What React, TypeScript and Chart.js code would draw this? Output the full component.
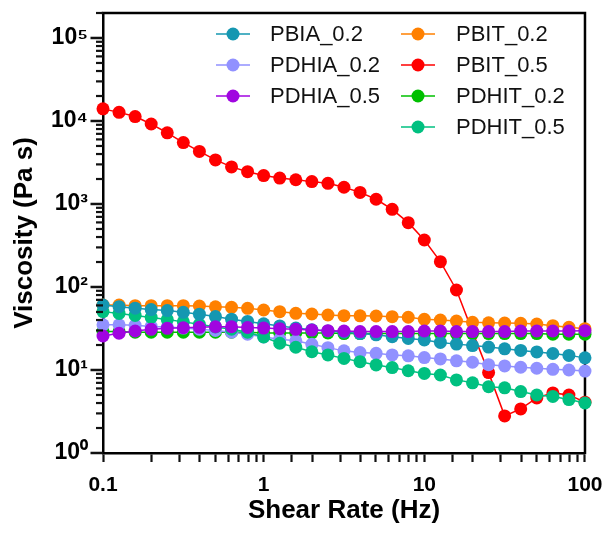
import React, { useEffect, useRef } from 'react';
import { Chart, registerables } from 'chart.js';

Chart.register(...registerables);

const FONT = "'Liberation Sans', Arial, sans-serif";

// Shear rate (Hz), 10 points per decade
const shearRate = [
  0.1, 0.1259, 0.1585, 0.1995, 0.2512, 0.3162, 0.3981, 0.5012, 0.631, 0.7943,
  1, 1.259, 1.585, 1.995, 2.512, 3.162, 3.981, 5.012, 6.31, 7.943,
  10, 12.59, 15.85, 19.95, 25.12, 31.62, 39.81, 50.12, 63.1, 79.43, 100,
];

const PBIA_02 = [
  60.7, 58, 55.5, 53.5, 52, 49.5, 47, 44, 41, 38.5,
  36, 34, 32, 30.5, 29.5, 28.5, 27.5, 26.5, 25.2, 24,
  23, 21.5, 20.5, 19.7, 18.9, 18, 17.2, 16.5, 15.8, 15, 14,
];
const PDHIA_02 = [
  35, 35, 34.5, 33.5, 33, 32, 31, 30, 28.5, 27,
  25, 23.5, 22.5, 20.4, 18.6, 17, 16.2, 15.9, 15.2, 14.8,
  14.1, 13.6, 12.9, 12.4, 11.6, 11.2, 10.8, 10.5, 10.2, 10, 9.7,
];
const PDHIA_05 = [
  25.7, 27.7, 29.5, 30.9, 31.8, 32.3, 32.7, 33.2, 33.2, 32.5,
  32, 31.5, 30.9, 30.3, 29.8, 29.5, 29, 29, 29, 29,
  29.5, 29.5, 29, 29, 29, 29, 29.5, 29.5, 29.5, 29.5, 29.8,
];
const PBIT_02 = [
  60.7, 60.5, 59.5, 59.5, 59.5, 59.5, 59, 57.7, 56.9, 55.4,
  52.8, 50.4, 48.2, 47.3, 46, 45.1, 45, 44.7, 43.9, 43.2,
  40.8, 40, 38.9, 37.5, 37, 36.8, 36.5, 35.8, 34.2, 32.7, 31.5,
];
const PBIT_05 = [
  14000, 12700, 11300, 9200, 7200, 5500, 4300, 3400, 2800, 2450,
  2200, 2050, 1960, 1860, 1775, 1590, 1380, 1140, 863, 596,
  368, 202, 92, 29, 9.3, 2.8, 3.4, 4.6, 5.3, 5.0, 4.1,
];
const PDHIT_02 = [
  29, 29, 28.5, 28.5, 28.5, 28.5, 28.5, 28.5, 28.5, 28.5,
  28, 28, 28, 28, 28, 27.5, 27.5, 27.5, 27.5, 27.5,
  27.5, 27.5, 27.5, 27.5, 27.5, 27.5, 27.5, 27.5, 27, 27, 27,
];
const PDHIT_05 = [
  50.5, 48, 45.5, 43, 40.5, 38, 35.5, 33, 31, 28.5,
  25, 21, 18.8, 16.6, 15.2, 13.8, 12.6, 11.5, 10.7, 9.8,
  9.1, 8.7, 7.6, 7.0, 6.3, 6.1, 5.5, 5.0, 4.8, 4.4, 4.0,
];

const seriesNames = ['PBIA_0.2', 'PDHIA_0.2', 'PDHIA_0.5', 'PBIT_0.2', 'PBIT_0.5', 'PDHIT_0.2', 'PDHIT_0.5'];
const seriesValues = [PBIA_02, PDHIA_02, PDHIA_05, PBIT_02, PBIT_05, PDHIT_02, PDHIT_05];
const seriesColors = ['#1597B1', '#9191FF', '#A005E0', '#FF8000', '#FF0000', '#00C000', '#00C080'];
// drawing order: higher drawn first (below)
const seriesOrder = [2, 4, 1, 6, 7, 5, 3];

const xTickValues = [0.1, 1, 10, 100];
const xTickLabels = ['0.1', '1', '10', '100'];
const yTickValues = [1, 10, 100, 1000, 10000, 100000];
const yTickLabels = ['10⁰', '10¹', '10²', '10³', '10⁴', '10⁵'];
const minorMultipliers = [2, 3, 4, 5, 6, 7, 8, 9];

const X_MIN = 0.1;
const X_MAX = 100;
const Y_MIN = 1;
const Y_MAX = 200000;

function labelFor(values: number[], labels: string[], v: number) {
  for (let i = 0; i < values.length; i++) {
    if (Math.abs(values[i] - v) / values[i] < 1e-6) return labels[i];
  }
  return '';
}

function drawYTicks(chart: any) {
  const ctx = chart.ctx;
  const a = chart.chartArea;
  const ys = chart.scales['y'];
  ctx.save();
  ctx.fillStyle = '#111111';
  const yTick = (v: number, len: number, w: number) => {
    const py = ys.getPixelForValue(v);
    ctx.fillRect(a.left - len, py - w / 2, len, w);
  };
  for (const d of yTickValues) {
    yTick(d, 12.5, 2.5);
    for (const m of minorMultipliers) {
      if (m * d <= Y_MAX * 1.0001) yTick(m * d, 7, 2.2);
    }
  }
  ctx.restore();
}

const decorPlugin = {
  id: 'decor',
  beforeDatasetsDraw(chart: any) {
    const { ctx, chartArea: a } = chart;
    ctx.save();
    ctx.strokeStyle = '#000';
    ctx.lineWidth = 2.5;
    ctx.beginPath();
    ctx.moveTo(a.left - 1.25, a.top);
    ctx.lineTo(a.right, a.top);
    ctx.lineTo(a.right, a.bottom + 1.25);
    ctx.stroke();
    ctx.restore();
  },
  afterDraw(chart: any) {
    const { ctx } = chart;
    const ds = chart.data.datasets;
    // legend: two columns
    const cols = [
      { lineX: 216, textX: 270, items: [0, 1, 2] },
      { lineX: 401, textX: 456, items: [3, 4, 5, 6] },
    ];
    ctx.save();
    ctx.font = `22px ${FONT}`;
    ctx.textBaseline = 'middle';
    ctx.textAlign = 'left';
    for (const c of cols) {
      c.items.forEach((idx, row) => {
        const y = 34 + row * 31;
        const color = ds[idx].borderColor;
        ctx.strokeStyle = color;
        ctx.lineWidth = 1.5;
        ctx.beginPath();
        ctx.moveTo(c.lineX, y);
        ctx.lineTo(c.lineX + 34, y);
        ctx.stroke();
        ctx.fillStyle = color;
        ctx.beginPath();
        ctx.arc(c.lineX + 17, y, 6.5, 0, Math.PI * 2);
        ctx.fill();
        ctx.fillStyle = '#111';
        ctx.fillText(ds[idx].label, c.textX, y + 1);
      });
    }
    ctx.restore();
    drawYTicks(chart);
  },
};

export default function App() {
  const ref = useRef<HTMLCanvasElement>(null);
  useEffect(() => {
    const datasets = seriesNames.map((name, i) => ({
      label: name,
      data: shearRate.map((x, j) => ({ x, y: seriesValues[i][j] })),
      borderColor: seriesColors[i],
      backgroundColor: seriesColors[i],
      pointBackgroundColor: seriesColors[i],
      pointBorderWidth: 0,
      pointRadius: 6.5,
      pointHoverRadius: 6.5,
      borderWidth: 1.5,
      tension: 0,
      clip: false as any,
      order: seriesOrder[i],
    }));
    const chart = new Chart(ref.current as HTMLCanvasElement, {
      type: 'line',
      data: { datasets },
      options: {
        animation: false,
        responsive: false,
        events: [],
        layout: { padding: { top: 13, right: 21, left: 0, bottom: 0 } },
        plugins: { legend: { display: false }, tooltip: { enabled: false } },
        scales: {
          x: {
            type: 'logarithmic',
            min: X_MIN,
            max: X_MAX,
            grid: {
              display: true,
              drawOnChartArea: false,
              drawTicks: true,
              tickLength: 9,
              tickWidth: 2.2,
              tickColor: '#111111',
              color: 'rgba(0,0,0,0)',
            },
            border: { display: true, color: '#000', width: 2.5 },
            ticks: {
              autoSkip: false,
              maxRotation: 0,
              padding: 3.5,
              color: '#000',
              font: { family: FONT, size: 21, weight: 'bold', lineHeight: 1.9 },
              callback: (v: any) => labelFor(xTickValues, xTickLabels, Number(v)),
            },
            title: {
              display: true,
              text: 'Shear Rate (Hz)',
              color: '#000',
              font: { family: FONT, size: 26, weight: 'bold' },
              padding: { top: 0, bottom: 11 },
            },
            afterFit: (s: any) => { s.height = 84; },
          },
          y: {
            type: 'logarithmic',
            min: Y_MIN,
            max: Y_MAX,
            grid: { display: false, drawOnChartArea: false, drawTicks: true, tickLength: 12 },
            border: { display: true, color: '#000', width: 2.5 },
            ticks: {
              autoSkip: false,
              padding: 3,
              color: '#000',
              font: { family: FONT, size: 23, weight: 'bold', lineHeight: 0.85 },
              callback: (v: any) => labelFor(yTickValues, yTickLabels, Number(v)),
            },
            title: {
              display: true,
              text: 'Viscosity (Pa s)',
              color: '#000',
              font: { family: FONT, size: 26, weight: 'bold' },
              padding: { top: 9, bottom: 0 },
            },
            afterFit: (s: any) => { s.width = 103; },
          },
        },
      } as any,
      plugins: [decorPlugin],
    });
    return () => chart.destroy();
  }, []);
  return (
    <div style={{ position: 'absolute', left: 0, top: 0, width: 606, height: 537, background: '#fff' }}>
      <canvas ref={ref} width={606} height={537} />
    </div>
  );
}
